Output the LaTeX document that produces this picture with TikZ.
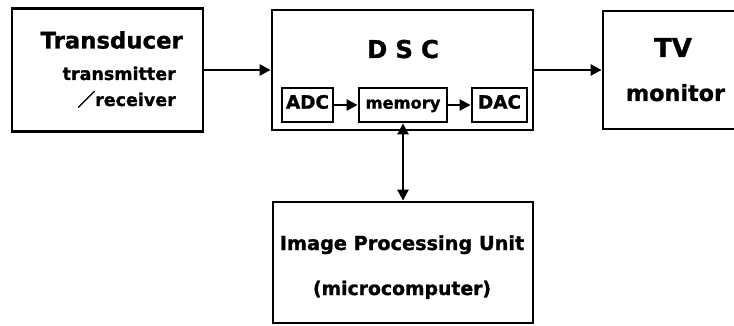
\documentclass[tikz,border=0pt]{standalone}
\usepackage{fontspec}
\setmainfont{DejaVu Sans}[BoldFeatures={FakeBold=1.2}]
\newfontfamily\cjkfont{Noto Sans CJK JP}[FakeBold=1.5]
\usetikzlibrary{arrows.meta}
\tikzset{
  blk/.style={draw, rectangle, line width=2.8pt, inner sep=0pt},
  lbl/.style={inner sep=0pt, font=\bfseries},
  inlbl/.style={inner sep=0pt, font=\bfseries, text height=0.73em, text depth=0pt},
  flow/.style={line width=2.5pt, -{Triangle[length=11pt,width=11pt]}},
  dflow/.style={line width=2.5pt, {Triangle[length=11pt,width=11pt]}-{Triangle[length=11pt,width=11pt]}},
}
\newcommand{\fsz}[1]{\fontsize{#1}{#1}\selectfont}
\begin{document}
\begin{tikzpicture}[x=1pt,y=-1pt]
\useasboundingbox (0,0) rectangle (734,326);
\clip (0,0) rectangle (734,326);

% main blocks
\node[blk, minimum width=191pt, minimum height=123pt] (trans) at (107.5,70) {};
\node[blk, minimum width=261pt, minimum height=120pt] (dsc) at (402.5,70) {};
\node[blk, minimum width=146pt, minimum height=118pt] (tv) at (676,70) {};
\node[blk, minimum width=260pt, minimum height=121pt] (ipu) at (403,262.5) {};

% blocks inside the scan converter
\node[blk, minimum width=51pt, minimum height=34pt] (adc) at (307.5,105) {};
\node[blk, minimum width=88pt, minimum height=34pt] (mem) at (403,105) {};
\node[blk, minimum width=55pt, minimum height=34pt] (dac) at (499.5,105) {};

% labels
\node[lbl, anchor=base east, font=\bfseries\fsz{22.8}] (tTrans) at (183,48.5) {Transducer};
\node[lbl, anchor=base east, font=\bfseries\fsz{17.5}] (tTx) at (176,80) {transmitter};
\node[lbl, anchor=base east, font=\bfseries\fsz{17.5}] (tRx) at (176,106) {{\cjkfont ／}receiver};

\node[lbl, anchor=base, font=\bfseries\fsz{24.5}] (tDsc) at (403,58) {D\hspace{8pt}S\hspace{8pt}C};
\node[inlbl, font=\bfseries\fsz{18.4}] (tAdc) at (adc) {ADC};
\node[inlbl, font=\bfseries\fsz{16.3}] (tMem) at (mem) {memory};
\node[inlbl, font=\bfseries\fsz{18.4}] (tDac) at (dac) {DAC};

\node[lbl, anchor=base, font=\bfseries\fsz{26}] (tTv) at (673,57) {TV};
\node[lbl, anchor=base, font=\bfseries\fsz{22.3}] (tMon) at (675.5,101) {monitor};

\node[lbl, anchor=base, font=\bfseries\fsz{19.3}] (tIpu) at (402,250) {Image Processing Unit};
\node[lbl, anchor=base, font=\bfseries\fsz{18.8}] (tMc) at (402,295) {(microcomputer)};

% connectors
\draw[flow] (trans.east) -- (dsc.west);
\draw[flow] (dsc.east) -- (tv.west);
\draw[flow] (adc.east) -- (mem.west);
\draw[flow] (mem.east) -- (dac.west);
\draw[dflow] (mem.south) -- (ipu.north);
\end{tikzpicture}
\end{document}
